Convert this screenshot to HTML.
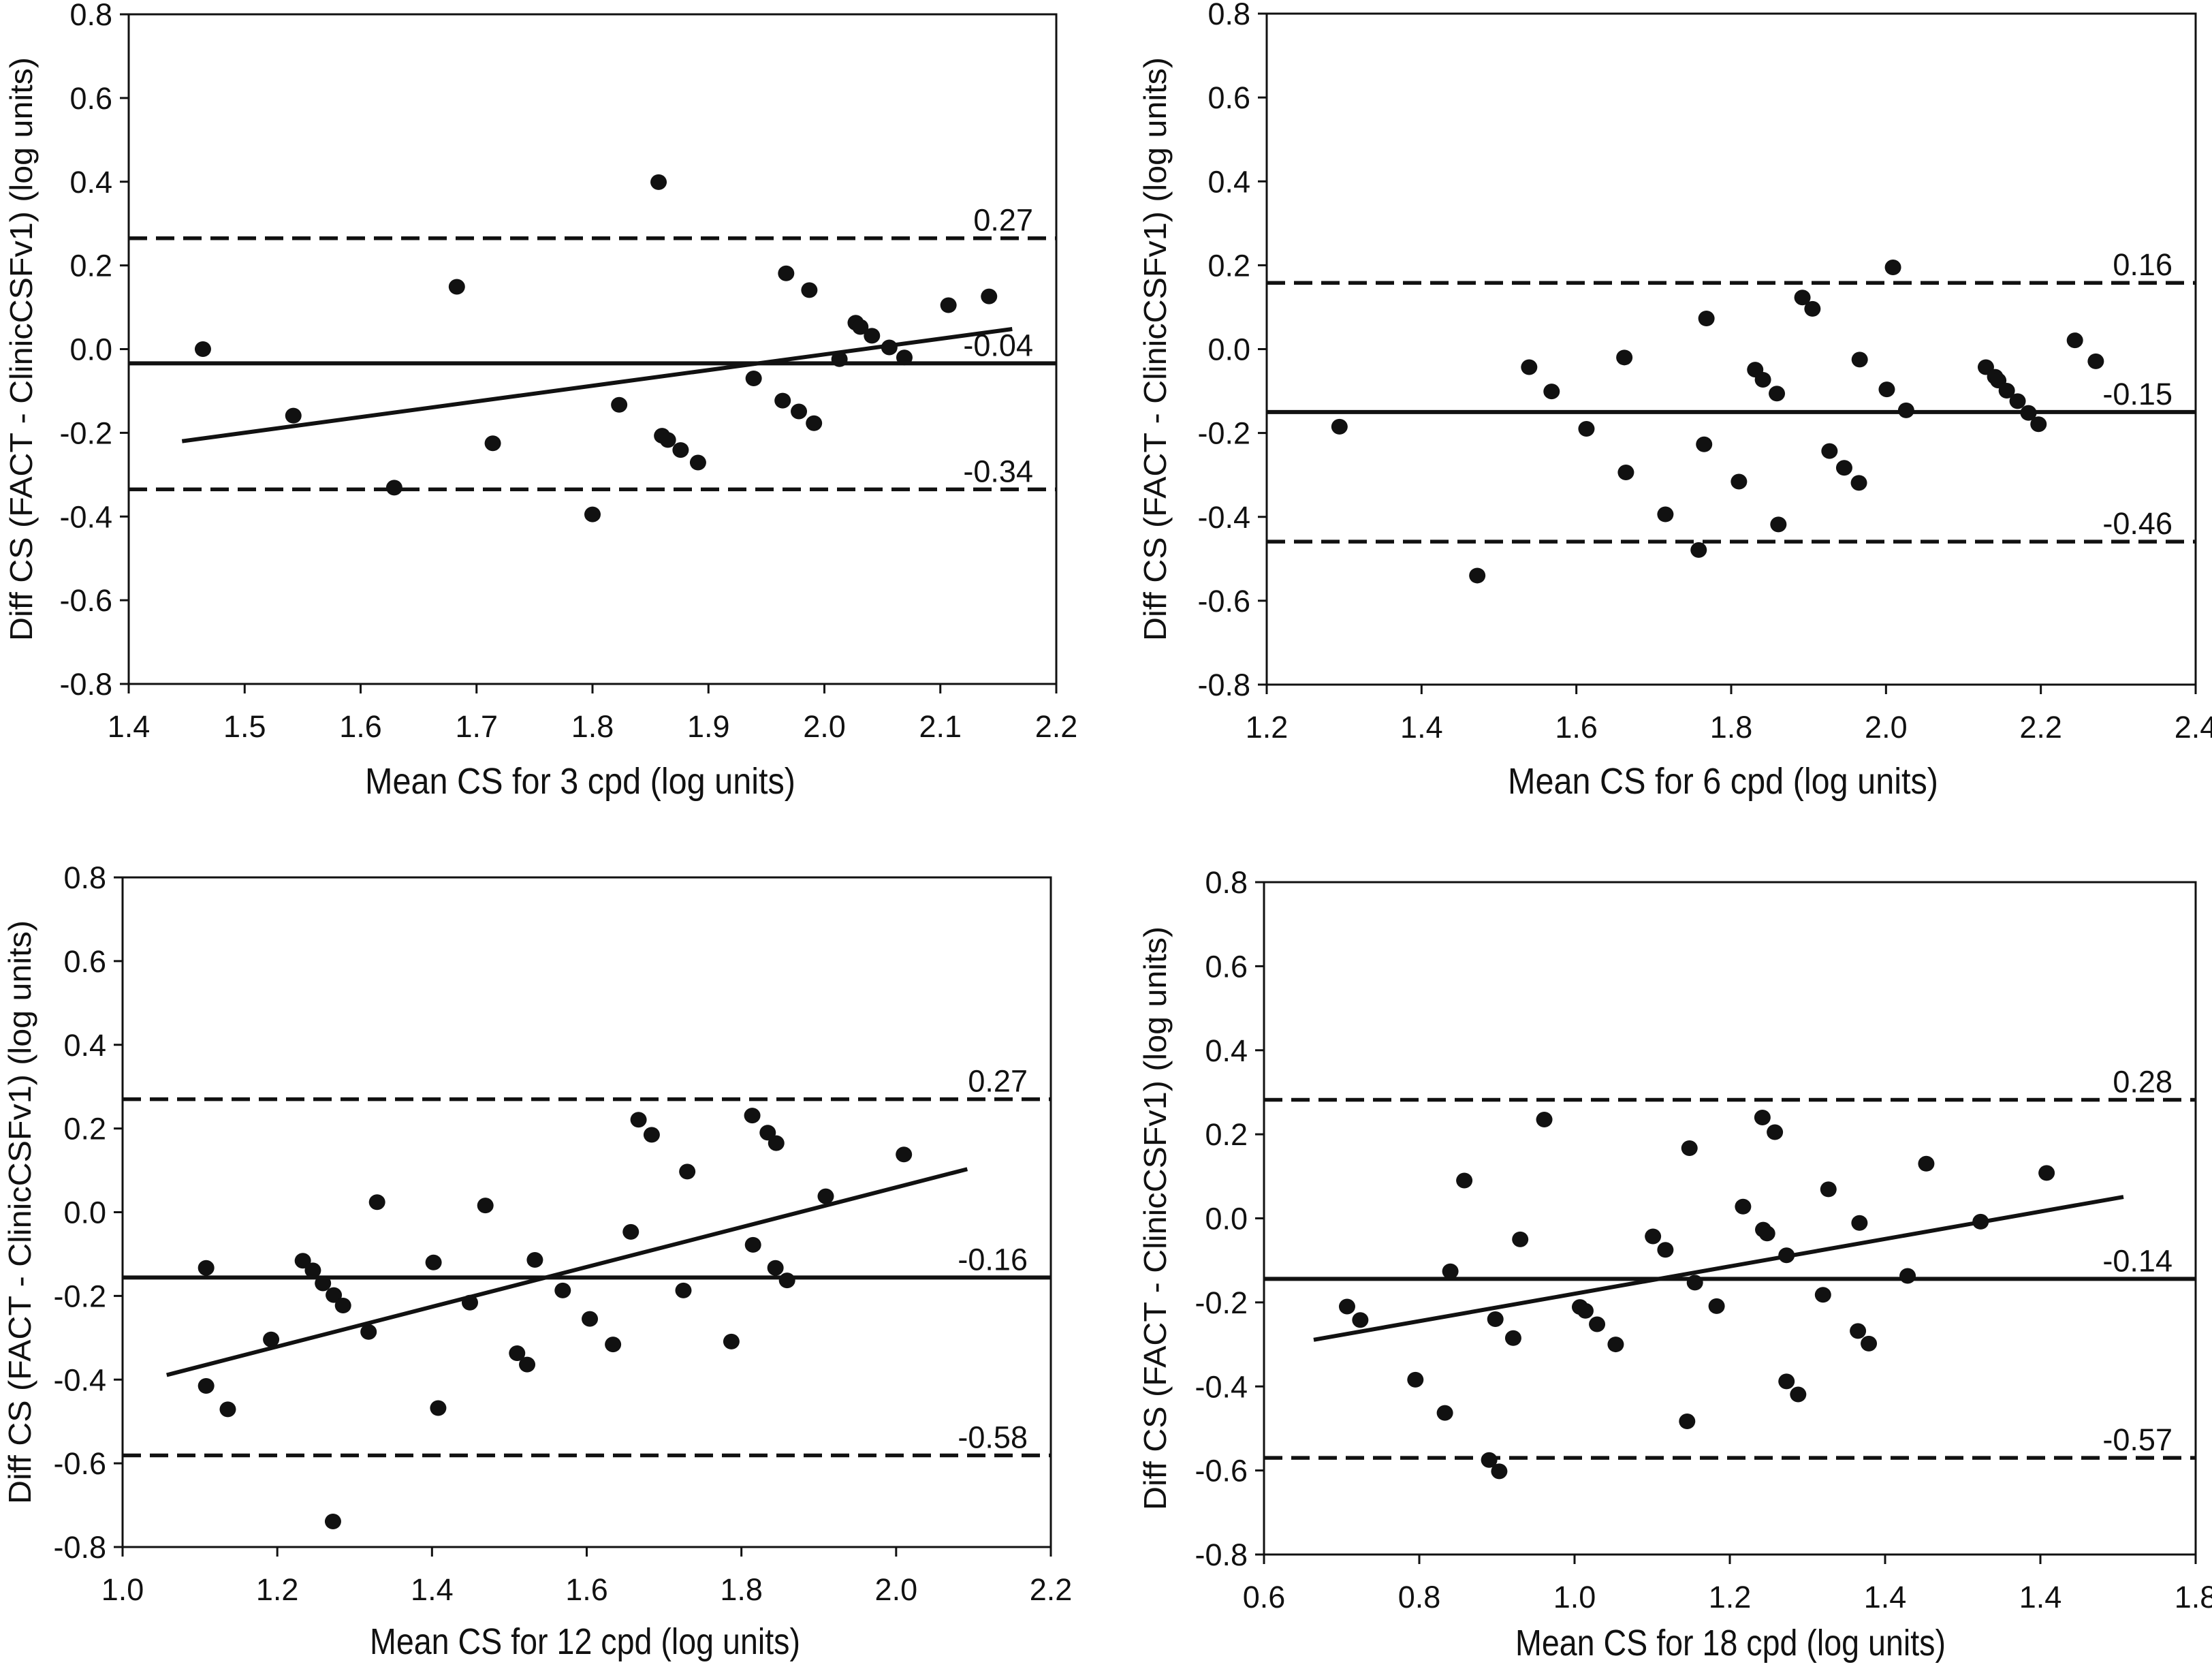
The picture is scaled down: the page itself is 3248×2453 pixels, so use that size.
<!DOCTYPE html>
<html><head><meta charset="utf-8"><style>
html,body{margin:0;padding:0;background:#fff}
svg{display:block}
text{fill:#111}
.tk{font-family:"Liberation Sans Narrow","Liberation Sans",sans-serif;font-size:45px}
.xt{font-family:"Liberation Sans Narrow","Liberation Sans",sans-serif;font-size:54px}
.yt{font-family:"Liberation Sans",sans-serif;font-size:46px}
</style></head><body>
<svg id="fig" width="3248" height="2453" viewBox="0 0 3248 2453" xmlns="http://www.w3.org/2000/svg"></svg>
<script>
// ---- Data (panel 1: 3 cpd) ----
const p1X = [1.464,1.542,1.629,1.683,1.714,1.800,1.823,1.857,1.860,1.865,1.876,1.891,1.939,1.964,1.967,1.978,1.987,1.991,2.013,2.027,2.031,2.041,2.056,2.069,2.107,2.142];
const p1Y = [0.0,-0.159,-0.331,0.149,-0.225,-0.395,-0.133,0.399,-0.207,-0.217,-0.241,-0.271,-0.070,-0.123,0.181,-0.149,0.141,-0.177,-0.024,0.063,0.053,0.032,0.004,-0.020,0.105,0.126];
const p1Lines = [0.265,-0.034,-0.335];
const p1LineLabels = ["0.27","-0.04","-0.34"];
const p1Reg = [1.446,-0.220,2.162,0.048];
const p1XTicks = [1.4,1.5,1.6,1.7,1.8,1.9,2.0,2.1,2.2];
const p1XTickLabels = ["1.4","1.5","1.6","1.7","1.8","1.9","2.0","2.1","2.2"];
// ---- Data (panel 2: 6 cpd) ----
const p2X = [1.294,1.472,1.539,1.568,1.613,1.662,1.664,1.715,1.758,1.765,1.768,1.810,1.831,1.841,1.859,1.861,1.892,1.905,1.927,1.946,1.965,1.966,2.001,2.009,2.026,2.129,2.141,2.145,2.156,2.170,2.184,2.197,2.244,2.271];
const p2Y = [-0.185,-0.540,-0.043,-0.101,-0.190,-0.020,-0.294,-0.394,-0.479,-0.227,0.073,-0.316,-0.049,-0.073,-0.106,-0.418,0.123,0.096,-0.243,-0.283,-0.319,-0.025,-0.096,0.195,-0.146,-0.043,-0.066,-0.075,-0.099,-0.124,-0.152,-0.179,0.021,-0.029];
const p2Lines = [0.158,-0.150,-0.459];
const p2LineLabels = ["0.16","-0.15","-0.46"];
const p2XTicks = [1.2,1.4,1.6,1.8,2.0,2.2,2.4];
const p2XTickLabels = ["1.2","1.4","1.6","1.8","2.0","2.2","2.4"];
// ---- Data (panel 3: 12 cpd) ----
const p3X = [1.108,1.108,1.136,1.192,1.233,1.246,1.259,1.273,1.285,1.272,1.318,1.329,1.402,1.408,1.449,1.469,1.510,1.523,1.533,1.569,1.604,1.634,1.657,1.667,1.684,1.725,1.730,1.787,1.814,1.815,1.834,1.844,1.845,1.859,1.909,2.010];
const p3Y = [-0.133,-0.415,-0.471,-0.304,-0.116,-0.139,-0.170,-0.198,-0.223,-0.739,-0.286,0.024,-0.120,-0.468,-0.216,0.016,-0.337,-0.364,-0.114,-0.187,-0.255,-0.316,-0.047,0.221,0.185,-0.187,0.097,-0.309,0.231,-0.078,0.190,-0.133,0.165,-0.163,0.038,0.138];
const p3Lines = [0.270,-0.156,-0.581];
const p3LineLabels = ["0.27","-0.16","-0.58"];
const p3Reg = [1.057,-0.389,2.092,0.103];
const p3XTicks = [1.0,1.2,1.4,1.6,1.8,2.0,2.2];
const p3XTickLabels = ["1.0","1.2","1.4","1.6","1.8","2.0","2.2"];
// ---- Data (panel 4: 18 cpd) ----
const p4X = [0.707,0.724,0.795,0.833,0.840,0.858,0.890,0.898,0.903,0.921,0.930,0.961,1.007,1.014,1.029,1.053,1.101,1.117,1.145,1.148,1.155,1.183,1.217,1.242,1.243,1.248,1.258,1.273,1.273,1.288,1.320,1.327,1.365,1.367,1.379,1.429,1.453,1.523,1.608];
const p4Y = [-0.210,-0.242,-0.384,-0.463,-0.126,0.090,-0.575,-0.240,-0.602,-0.285,-0.050,0.235,-0.211,-0.220,-0.252,-0.300,-0.043,-0.075,-0.483,0.167,-0.153,-0.209,0.028,0.240,-0.027,-0.036,0.205,-0.088,-0.388,-0.419,-0.182,0.069,-0.268,-0.011,-0.298,-0.137,0.130,-0.008,0.108];
const p4Lines = [0.282,-0.144,-0.570];
const p4LineLabels = ["0.28","-0.14","-0.57"];
const p4Reg = [0.664,-0.289,1.707,0.051];
const p4XTicks = [0.6,0.8,1.0,1.2,1.4,1.6,1.8];
const p4XTickLabels = ["0.6","0.8","1.0","1.2","1.4","1.4","1.8"];
const yTicks = [0.8,0.6,0.4,0.2,0.0,-0.2,-0.4,-0.6,-0.8];
const yTickLabels = ["0.8","0.6","0.4","0.2","0.0","-0.2","-0.4","-0.6","-0.8"];

const NS="http://www.w3.org/2000/svg";
const svg=document.getElementById('fig');
function mk(tag,attrs,parent){const e=document.createElementNS(NS,tag);for(const k in attrs)e.setAttribute(k,attrs[k]);(parent||svg).appendChild(e);return e;}

function panel(id,box,xmin,xmax,xs,ys,lines,lineLabels,reg,xticks,xtl,xtitle,ytitleX,xtitlePos){
  const g=mk('g',{});
  
  
  const [L,T,R,B]=box;
  const sx=v=>L+(v-xmin)/(xmax-xmin)*(R-L);
  const sy=v=>T+(0.8-v)/1.6*(B-T);
  lines.forEach((v,i)=>{
    const ln=mk('line',{x1:L,x2:R,y1:sy(v),y2:sy(v),stroke:'#111','stroke-width':i===1?6:5.5,'stroke-dasharray':i===1?'':'27 13'},g);
    
    
    const t=mk('text',{x:R-34,y:sy(v)-11,'text-anchor':'end',class:'tk'},g);
    t.textContent=lineLabels[i];
    
    
  });
  if(reg){
    const rl=mk('line',{x1:sx(reg[0]),y1:sy(reg[1]),x2:sx(reg[2]),y2:sy(reg[3]),stroke:'#111','stroke-width':6},g);
    
    
  }
  xs.forEach((v,i)=>{
    const c=mk('ellipse',{cx:sx(v),cy:sy(ys[i]),rx:12,ry:11.5,fill:'#111'},g);
    
    
  });
  const fr=mk('rect',{x:L,y:T,width:R-L,height:B-T,fill:'none',stroke:'#111','stroke-width':3},g);
  
  
  yTicks.forEach((v,i)=>{
    mk('line',{x1:L-13,x2:L,y1:sy(v),y2:sy(v),stroke:'#111','stroke-width':3},g);
    const t=mk('text',{x:L-24,y:sy(v)+16,'text-anchor':'end',class:'tk'},g);
    t.textContent=yTickLabels[i];
    
    
  });
  xticks.forEach((v,i)=>{
    mk('line',{x1:sx(v),x2:sx(v),y1:B,y2:B+14,stroke:'#111','stroke-width':3},g);
    const t=mk('text',{x:sx(v),y:B+78,'text-anchor':'middle',class:'tk'},g);
    t.textContent=xtl[i];
    
    
  });
  const xt=mk('text',{x:xtitlePos[0],y:xtitlePos[1]+18,'text-anchor':'middle',class:'xt',textLength:632,lengthAdjust:'spacingAndGlyphs'},g);
  xt.textContent=xtitle;
  
  
  const cy=(T+B)/2;
  const yt=mk('text',{x:0,y:0,'text-anchor':'middle',class:'yt',textLength:857,lengthAdjust:'spacingAndGlyphs',transform:`translate(${ytitleX+16},${cy}) rotate(-90)`},g);
  yt.textContent='Diff CS (FACT - ClinicCSFv1) (log units)';
  
  
}
panel('panel-3cpd',[189,21,1551,1004],1.4,2.2,p1X,p1Y,p1Lines,p1LineLabels,p1Reg,p1XTicks,p1XTickLabels,'Mean CS for 3 cpd (log units)',31,[852,1147]);
panel('panel-6cpd',[1860,20,3224,1005],1.2,2.4,p2X,p2Y,p2Lines,p2LineLabels,null,p2XTicks,p2XTickLabels,'Mean CS for 6 cpd (log units)',1696,[2530,1147]);
panel('panel-12cpd',[180,1288,1543,2271],1.0,2.2,p3X,p3Y,p3Lines,p3LineLabels,p3Reg,p3XTicks,p3XTickLabels,'Mean CS for 12 cpd (log units)',29,[859,2410]);
panel('panel-18cpd',[1856,1295,3224,2282],0.6,1.8,p4X,p4Y,p4Lines,p4LineLabels,p4Reg,p4XTicks,p4XTickLabels,'Mean CS for 18 cpd (log units)',1696,[2541,2412]);
</script>
</body></html>
